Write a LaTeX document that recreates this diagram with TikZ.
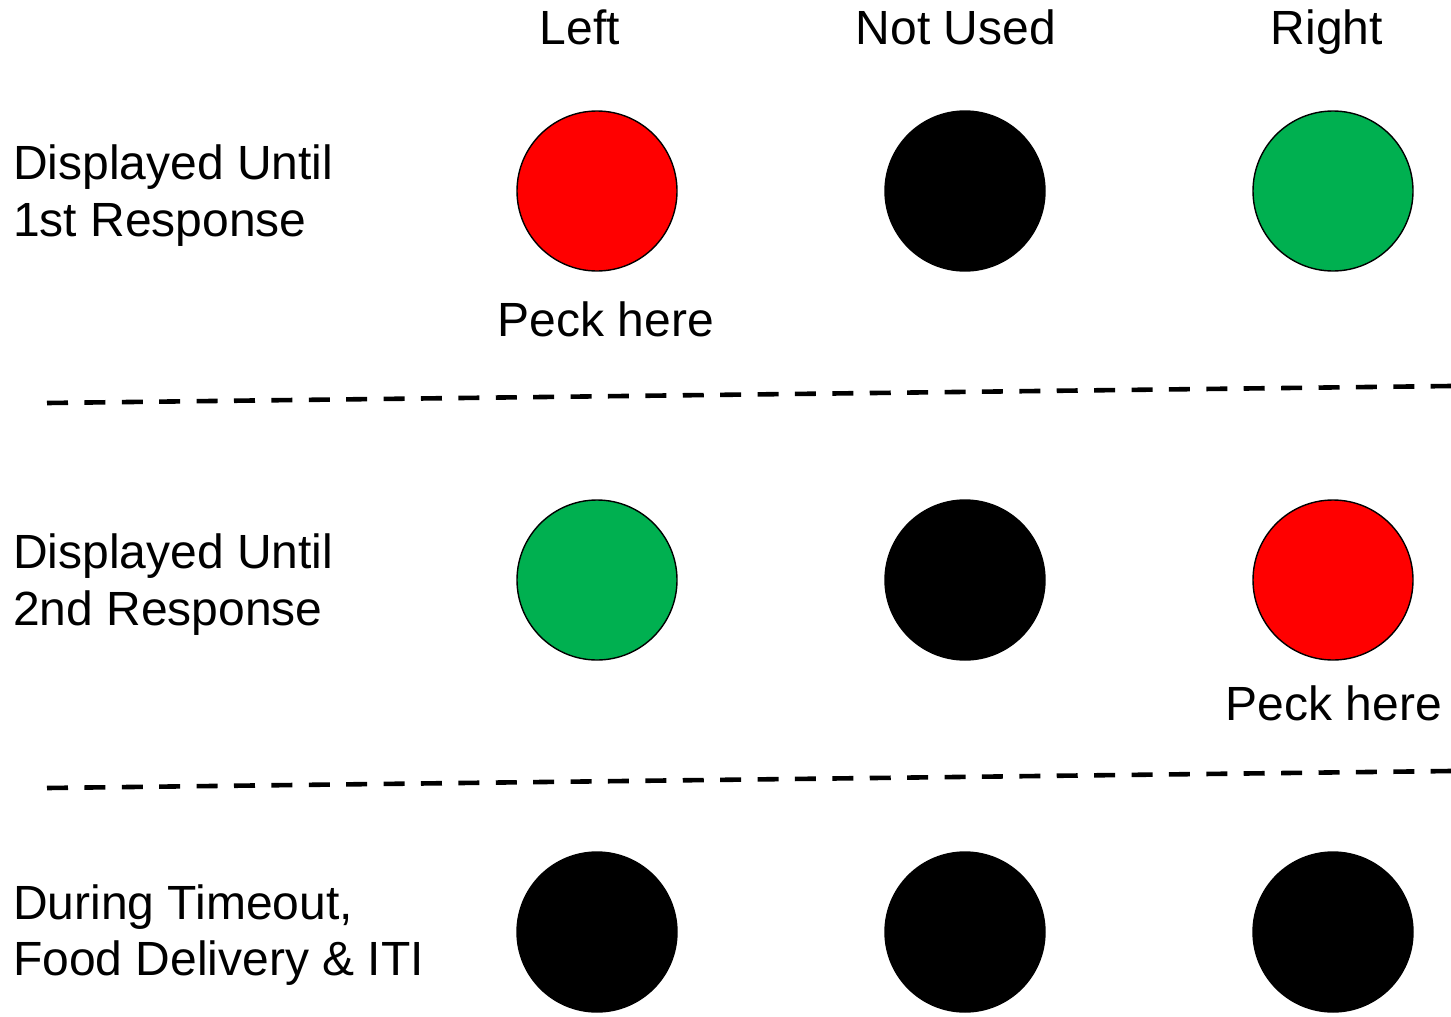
\documentclass[tikz,border=0pt]{standalone}
\usepackage{fontspec}
\setmainfont{Liberation Sans}
\definecolor{keyred}{HTML}{FF0000}
\definecolor{keygreen}{HTML}{00B050}
\begin{document}
\begin{tikzpicture}[x=1pt,y=-1pt,
  every node/.style={inner sep=0pt, font=\fontsize{48}{57}\selectfont},
  key/.style={circle, minimum size=160pt, draw=black, line width=1.4pt},
  darkkey/.style={key, fill=black},
  redkey/.style={key, fill=keyred},
  greenkey/.style={key, fill=keygreen},
  rowlabel/.style={anchor=base west},
  collabel/.style={anchor=base},
  divider/.style={line width=4.6pt, dash pattern=on 21pt off 16.4pt}]
\useasboundingbox (0,0) rectangle (1451,1017);

% column headings
\node[collabel] (hL) at (580,44) {Left};
\node[collabel] (hN) at (956,44) {Not Used};
\node[collabel] (hR) at (1327,44) {Right};

% row 1
\node[rowlabel] (r1a) at (13,179) {Displayed Until};
\node[rowlabel] (r1b) at (13,236) {1st Response};
\node[redkey]   (k11) at (597,191) {};
\node[darkkey]  (k12) at (965,191) {};
\node[greenkey] (k13) at (1333,191) {};
\node[collabel] (p1)  at (606,336) {Peck here};

% divider 1
\coordinate (d1a) at (47,403);
\coordinate (d1b) at (1451,386);
\draw[divider] (d1a) -- (d1b);

% row 2
\node[rowlabel] (r2a) at (13,568) {Displayed Until};
\node[rowlabel] (r2b) at (13,625) {2nd Response};
\node[greenkey] (k21) at (597,580) {};
\node[darkkey]  (k22) at (965,580) {};
\node[redkey]   (k23) at (1333,580) {};
\node[collabel] (p2)  at (1334,720) {Peck here};

% divider 2
\coordinate (d2a) at (47,788);
\coordinate (d2b) at (1451,771);
\draw[divider] (d2a) -- (d2b);

% row 3
\node[rowlabel] (r3a) at (13,919) {During Timeout,};
\node[rowlabel] (r3b) at (13,975) {Food Delivery \& ITI};
\node[darkkey]  (k31) at (597,932) {};
\node[darkkey]  (k32) at (965,932) {};
\node[darkkey]  (k33) at (1333,932) {};
\end{tikzpicture}
\end{document}
